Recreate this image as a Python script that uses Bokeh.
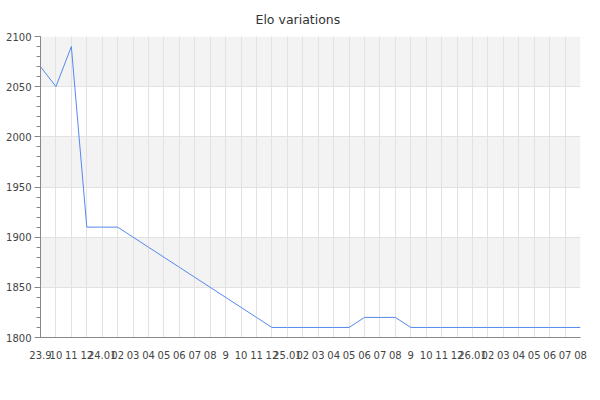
from bokeh.plotting import figure
from bokeh.models import FixedTicker, Range1d
from bokeh.embed import file_html
from bokeh.resources import INLINE

# Monthly index from Sep 2023 (0) to Aug 2026 (35)
month_index = list(range(36))
elo = [2070, 2050, 2090, 1910, 1910, 1910, 1900, 1890, 1880, 1870, 1860, 1850,
       1840, 1830, 1820, 1810, 1810, 1810, 1810, 1810, 1810, 1820, 1820, 1820,
       1810, 1810, 1810, 1810, 1810, 1810, 1810, 1810, 1810, 1810, 1810, 1810]
tick_labels = ["23.9", "10", "11", "12", "24.01", "02", "03", "04", "05", "06", "07", "08",
               "9", "10", "11", "12", "25.01", "02", "03", "04", "05", "06", "07", "08",
               "9", "10", "11", "12", "26.01", "02", "03", "04", "05", "06", "07", "08"]
y_ticks = [1800, 1850, 1900, 1950, 2000, 2050, 2100]
y_minor = [v for v in range(1800, 2101, 10)]
title_text = "Elo variations"

FONT = "DejaVu Sans"

p = figure(width=600, height=400, output_backend="svg", toolbar_location=None,
           x_range=Range1d(0, 35), y_range=Range1d(1800, 2100),
           min_border_left=40, min_border_right=20, min_border_top=36, min_border_bottom=63)

p.title.text = title_text
p.title.align = "left"
p.title.offset = 215
p.title.vertical_align = "top"
p.title.standoff = 15
p.title.text_font = FONT
p.title.text_font_size = "12.5px"
p.title.text_font_style = "normal"
p.title.text_color = "#333333"

p.line(month_index, elo, line_color="#5588ee", line_width=1)

p.outline_line_color = None

xa = p.xaxis[0]
xa.ticker = FixedTicker(ticks=month_index)
xa.major_label_overrides = {i: lab for i, lab in zip(month_index, tick_labels)}
xa.major_tick_line_color = None
xa.minor_tick_line_color = None
xa.major_tick_out = 0
xa.minor_tick_out = 0
xa.axis_line_color = "#888888"
xa.major_label_text_font = FONT
xa.major_label_text_font_size = "10px"
xa.major_label_text_color = "#444444"
xa.major_label_standoff = 13

ya = p.yaxis[0]
ya.ticker = FixedTicker(ticks=y_ticks, minor_ticks=y_minor)
ya.axis_line_color = "#888888"
ya.major_tick_line_color = "#888888"
ya.minor_tick_line_color = "#888888"
ya.major_tick_out = 6
ya.major_tick_in = 0
ya.minor_tick_out = 4
ya.minor_tick_in = 0
ya.major_label_text_font = FONT
ya.major_label_text_font_size = "10px"
ya.major_label_text_color = "#444444"
ya.major_label_standoff = 3

p.xgrid.grid_line_color = "#e2e2e2"
p.ygrid.grid_line_color = "#e2e2e2"
p.ygrid.band_fill_color = "#f3f3f3"
p.ygrid.band_fill_alpha = 1.0
p.ygrid.level = "image"

open("out.html", "w").write(file_html(p, INLINE))
